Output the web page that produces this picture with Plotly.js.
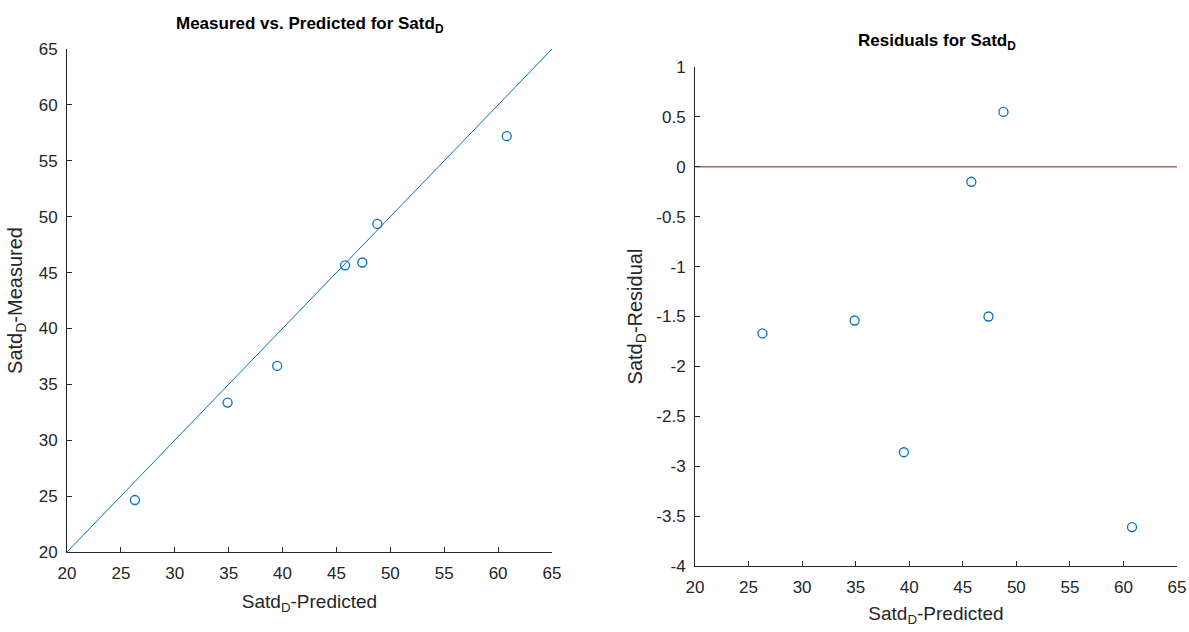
<!DOCTYPE html>
<html>
<head>
<meta charset="utf-8">
<script src="https://cdn.plot.ly/plotly-3.0.1.min.js"></script>
<style>
  html, body { margin: 0; padding: 0; background: #fff; }
  #chart { width: 1189px; height: 632px; }
</style>
</head>
<body>
<div id="chart"></div>
<script>
// Predicted and measured Satd_D values
const predicted = [26.3, 34.9, 39.5, 45.8, 47.4, 48.8, 60.8];
const measured  = [24.65, 33.37, 36.65, 45.65, 45.9, 49.35, 57.2];
const residual  = [-1.67, -1.54, -2.86, -0.15, -1.50, 0.55, -3.61];

// Reference line y = x and zero-residual line
const refLineX = [20, 65];
const refLineY = [20, 65];
const zeroLineX = [20, 65];
const zeroLineY = [0, 0];

const leftTicks  = [20, 25, 30, 35, 40, 45, 50, 55, 60, 65];
const resTicks   = [1, 0.5, 0, -0.5, -1, -1.5, -2, -2.5, -3, -3.5, -4];
const resLabels  = ['1', '0.5', '0', '-0.5', '-1', '-1.5', '-2', '-2.5', '-3', '-3.5', '-4'];

const blue = '#0072BD';
const axisColor = '#262626';
const sans = 'Liberation Sans, Arial, sans-serif';

const markerStyle = { symbol: 'circle-open', size: 9, color: blue, line: { width: 1.3, color: blue } };

const traces = [
  { x: refLineX, y: refLineY, mode: 'lines', line: { color: blue, width: 1 }, xaxis: 'x', yaxis: 'y', hoverinfo: 'skip' },
  { x: predicted, y: measured, mode: 'markers', marker: markerStyle, xaxis: 'x', yaxis: 'y' },
  { x: zeroLineX, y: zeroLineY, mode: 'lines', line: { color: '#a66b5e', width: 1.5 }, xaxis: 'x2', yaxis: 'y2', hoverinfo: 'skip' },
  { x: predicted, y: residual, mode: 'markers', marker: markerStyle, xaxis: 'x2', yaxis: 'y2' }
];

function axisBase(standoff) {
  return {
    showgrid: false, zeroline: false, showline: true, linecolor: axisColor, linewidth: 1,
    ticks: 'inside', ticklen: 5, tickwidth: 1, tickcolor: axisColor,
    tickfont: { family: sans, size: 17, color: axisColor },
    ticklabelstandoff: standoff,
    mirror: false
  };
}

const W = 1189, H = 632;
const layout = {
  width: W, height: H,
  margin: { l: 0, r: 0, t: 0, b: 0 },
  paper_bgcolor: '#fff', plot_bgcolor: '#fff',
  showlegend: false,
  xaxis: Object.assign(axisBase(6), {
    domain: [67 / W, 552 / W], range: [20, 65], tickvals: leftTicks, anchor: 'y',
    title: { text: 'Satd<sub>D</sub>-Predicted', font: { family: sans, size: 19, color: axisColor }, standoff: 12 }
  }),
  yaxis: Object.assign(axisBase(5), {
    domain: [1 - 552 / H, 1 - 49 / H], range: [20, 65], tickvals: leftTicks, anchor: 'x',
    title: { text: 'Satd<sub>D</sub>-Measured', font: { family: sans, size: 20, color: axisColor }, standoff: 10 }
  }),
  xaxis2: Object.assign(axisBase(6), {
    domain: [695 / W, 1177 / W], range: [20, 65], tickvals: leftTicks, anchor: 'y2',
    title: { text: 'Satd<sub>D</sub>-Predicted', font: { family: sans, size: 19, color: axisColor }, standoff: 10 }
  }),
  yaxis2: Object.assign(axisBase(5), {
    domain: [1 - 566 / H, 1 - 67 / H], range: [-4, 1], tickvals: resTicks, ticktext: resLabels, anchor: 'x2',
    title: { text: 'Satd<sub>D</sub>-Residual', font: { family: sans, size: 20, color: axisColor }, standoff: 8 }
  }),
  annotations: [
    { text: '<b>Measured vs. Predicted for Satd<sub>D</sub></b>', xref: 'paper', yref: 'paper',
      x: 310 / W, y: 1 - 25 / H, xanchor: 'center', yanchor: 'middle', showarrow: false,
      font: { family: sans, size: 17, color: '#000' } },
    { text: '<b>Residuals for Satd<sub>D</sub></b>', xref: 'paper', yref: 'paper',
      x: 937 / W, y: 1 - 42 / H, xanchor: 'center', yanchor: 'middle', showarrow: false,
      font: { family: sans, size: 17, color: '#000' } }
  ]
};

Plotly.newPlot('chart', traces, layout, { displayModeBar: false, staticPlot: true });
</script>
</body>
</html>
